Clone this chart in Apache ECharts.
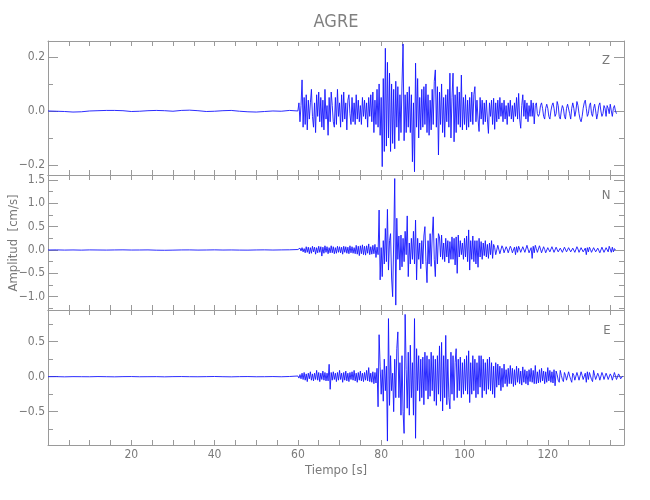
<!DOCTYPE html>
<html>
<head>
<meta charset="utf-8">
<script src="https://cdn.jsdelivr.net/npm/echarts@6/dist/echarts.min.js"></script>
<style>html,body{margin:0;padding:0;background:#fff}#c{width:650px;height:500px}</style>
</head>
<body>
<div id="c"></div>
<script>
// ---- data ----
const stationName = 'AGRE';
const componentNames = ['Z', 'N', 'E'];
const xTitle = 'Tiempo [s]';
const yTitle = 'Amplitud  [cm/s]';

const PRE_T0 = 0, PRE_DT = 2;      // quiet part, one reading every 2 s
const ACT_T0 = 60, ACT_DT = 0.25;  // active part, one reading every 0.25 s

const xTicks = [5,10,15,20,25,30,35,40,45,50,55,60,65,70,75,80,85,90,95,100,105,110,115,120,125,130,135];
const xLabels = [20,40,60,80,100,120];

const zMajor = [-0.2, 0, 0.2], zMinor = [-0.1, 0.1];
const nMajor = [-1, -0.5, 0, 0.5, 1, 1.5], nMinor = [-1.25, -0.75, -0.25, 0.25, 0.75, 1.25];
const eMajor = [-0.5, 0, 0.5], eMinor = [-0.75, -0.25, 0.25, 0.75];

const zRange = [-0.237, 0.259];
const nRange = [-1.285, 1.606];
const eRange = [-0.976, 0.953];

const zPre = [0.000,-0.001,-0.002,-0.004,-0.003,0.000,0.001,0.002,0.002,0.001,-0.002,-0.001,0.001,0.002,0.001,
  -0.001,0.002,0.003,0.001,-0.002,-0.001,0.001,0.002,-0.001,-0.003,-0.004,-0.002,0.000,-0.001,0.002];
const zAct = [
  0.00,0.03,-0.04,0.02,      // 60
  0.115,-0.06,0.05,-0.05,
  0.06,-0.07,0.04,-0.03,
  0.03,0.08,-0.02,-0.06,
  0.03,-0.08,0.06,-0.02,
  0.07,-0.04,0.05,-0.06,     // 65
  0.04,-0.07,0.08,-0.03,
  0.02,-0.09,0.05,-0.04,
  0.07,0.02,-0.04,-0.06,
  0.05,-0.05,0.08,-0.02,
  0.03,-0.06,0.06,-0.04,     // 70
  0.07,-0.03,0.03,-0.07,
  0.04,0.06,-0.01,-0.05,
  0.05,-0.04,0.03,-0.05,
  0.06,-0.03,0.04,-0.04,
  0.02,-0.05,0.05,-0.02,     // 75
  0.04,-0.03,0.03,-0.06,
  0.05,-0.02,0.06,-0.04,
  0.07,-0.08,0.04,-0.05,
  0.08,-0.06,0.10,-0.09,
  0.05,-0.206,0.12,-0.15,    // 80
  0.232,-0.13,0.18,-0.10,
  0.14,-0.15,0.10,-0.12,
  0.08,-0.14,0.11,-0.06,
  0.09,-0.11,0.06,-0.08,
  0.10,0.248,-0.11,0.06,     // 85
  -0.08,0.07,-0.06,0.09,
  -0.08,0.06,-0.188,0.03,
  -0.225,0.177,-0.06,0.12,
  -0.10,0.05,-0.07,0.08,
  -0.06,0.09,-0.05,0.10,     // 90
  -0.08,0.06,-0.09,0.04,
  -0.07,0.08,-0.05,0.11,
  0.152,-0.06,0.09,-0.163,
  0.07,-0.05,0.10,-0.08,
  0.05,-0.097,0.06,-0.04,    // 95
  0.08,-0.06,0.14,-0.10,
  0.05,0.14,-0.114,0.06,
  -0.08,0.09,-0.05,0.07,
  -0.06,0.133,-0.07,0.05,
  -0.05,0.06,-0.07,0.04,     // 100
  -0.06,0.05,-0.04,0.07,
  -0.05,0.06,0.09,-0.04,
  0.04,-0.03,-0.076,0.05,
  -0.03,0.04,-0.05,0.03,
  -0.04,0.04,-0.03,-0.083,   // 105
  0.03,-0.02,0.04,-0.05,
  0.047,-0.068,0.03,-0.04,
  0.04,-0.03,0.05,-0.02,
  0.03,-0.04,0.04,-0.03,
  0.02,-0.05,0.03,-0.02,     // 110
  0.04,-0.03,0.02,-0.04,
  0.03,-0.02,0.05,-0.03,
  0.065,-0.03,-0.064,0.02,
  0.06,-0.02,0.04,-0.03,
  0.03,-0.04,0.02,-0.02,     // 115
  0.04,-0.02,0.03,-0.048,
  0.02,0.03,-0.01,-0.02,
  -0.01,0.02,0.03,0.01,
  -0.02,-0.03,0.01,0.025,
  0.01,-0.02,-0.03,0.00,     // 120
  0.02,0.03,0.01,-0.02,
  -0.01,0.035,0.02,-0.02,
  -0.03,0.00,0.02,0.01,
  -0.02,-0.03,0.01,0.025,
  0.02,-0.01,-0.03,0.01,     // 125
  0.03,0.01,-0.02,0.00,
  0.035,0.02,-0.01,-0.03,
  -0.04,-0.02,0.01,0.03,
  0.04,0.01,-0.02,-0.01,
  0.02,0.03,-0.01,-0.02,     // 130
  0.01,0.025,0.00,-0.03,
  -0.01,0.02,0.03,0.00,
  -0.02,-0.01,0.02,0.01,
  -0.02,0.02,0.01,-0.01,
  0.025,0.00,-0.02,0.01,     // 135
  0.02,0.00,-0.01
];

const nPre = [0.000,0.002,-0.002,0.001,-0.003,0.002,0.000,-0.002,0.001,0.003,-0.001,0.000,0.002,-0.004,-0.006,
  -0.003,0.001,0.002,-0.002,0.000,0.003,-0.001,0.001,-0.002,-0.003,0.001,0.003,-0.001,0.002,0.004];
const nAct = [
  0.01,-0.03,0.04,-0.02,     // 60
  0.05,-0.04,0.03,-0.06,
  0.07,-0.05,0.06,-0.08,
  0.05,-0.07,0.08,-0.04,
  0.06,-0.09,0.05,-0.06,
  0.08,-0.05,0.07,-0.13,     // 65
  0.06,-0.07,0.09,-0.05,
  0.07,-0.08,0.05,-0.06,
  0.09,-0.06,0.07,-0.08,
  0.05,-0.07,0.08,-0.05,
  0.07,-0.06,0.06,-0.09,     // 70
  0.08,-0.05,0.07,-0.07,
  0.06,-0.08,0.09,-0.06,
  0.07,-0.07,0.05,-0.08,
  0.10,-0.09,0.08,-0.12,
  0.09,-0.08,0.11,-0.10,     // 75
  0.08,-0.11,0.09,-0.07,
  0.13,-0.10,0.07,-0.09,
  0.10,-0.08,0.12,-0.16,
  0.06,-0.10,0.855,-0.64,
  0.05,-0.57,0.20,-0.30,     // 80
  0.46,-0.25,0.87,-0.43,
  0.20,0.35,-0.60,-1.00,
  0.15,1.53,-1.18,0.68,
  -0.20,0.30,-0.43,0.32,
  -0.36,0.25,-0.25,0.40,     // 85
  -0.10,0.73,-0.57,0.15,
  -0.30,0.25,-0.20,0.40,
  -0.30,0.64,-0.64,0.25,
  -0.20,0.15,-0.40,0.20,
  -0.30,0.30,0.50,-0.25,     // 90
  -0.70,0.20,-0.30,0.35,
  -0.35,0.30,0.71,-0.20,
  -0.57,0.25,-0.30,0.35,
  0.28,-0.15,0.32,-0.20,
  0.15,-0.25,0.25,-0.15,     // 95
  0.20,-0.28,0.18,-0.20,
  0.28,-0.20,0.25,-0.32,
  0.28,-0.50,0.32,-0.15,
  0.20,-0.10,0.15,-0.20,
  0.25,-0.15,0.30,-0.25,     // 100
  0.43,-0.43,0.20,-0.20,
  0.30,-0.25,0.20,-0.30,
  0.20,-0.37,0.25,-0.15,
  0.18,-0.20,0.15,-0.12,
  0.20,-0.15,0.12,-0.18,     // 105
  0.15,-0.10,0.20,-0.18,
  0.12,0.05,-0.10,-0.08,
  0.10,0.06,-0.08,-0.07,
  0.09,0.04,-0.06,-0.10,
  0.07,0.02,-0.06,-0.04,     // 110
  0.08,0.03,-0.06,-0.08,
  0.06,-0.10,0.07,-0.05,
  0.08,0.02,-0.05,-0.09,
  0.07,0.04,-0.05,-0.06,
  0.10,0.02,-0.06,-0.10,     // 115
  0.05,-0.18,0.08,-0.06,
  0.10,0.03,-0.05,-0.08,
  0.09,0.02,-0.06,-0.05,
  0.07,0.01,-0.06,-0.07,
  0.05,0.02,-0.04,-0.04,     // 120
  0.07,0.01,-0.05,-0.06,
  0.06,0.02,-0.04,-0.05,
  0.04,0.01,-0.05,-0.04,
  0.06,0.02,-0.04,-0.07,
  0.05,0.01,-0.04,-0.05,     // 125
  0.04,0.02,-0.05,-0.04,
  0.07,0.02,-0.05,-0.06,
  0.05,0.01,-0.04,-0.05,
  0.04,-0.10,0.05,-0.04,
  0.06,0.01,-0.05,-0.06,     // 130
  0.05,0.02,-0.04,-0.05,
  0.04,0.01,-0.06,-0.04,
  0.06,0.02,-0.05,-0.07,
  0.05,0.01,-0.04,0.08,
  0.10,-0.05,0.06,-0.04,     // 135
  0.03,0.00
];

const ePre = [0.000,0.001,-0.002,0.001,0.000,-0.001,0.002,0.000,-0.002,0.001,0.002,-0.001,0.000,0.001,-0.002,
  0.001,0.002,0.000,-0.001,0.001,0.003,0.000,-0.002,0.001,0.002,-0.001,0.000,0.002,-0.001,0.003];
const eAct = [
  0.01,-0.02,0.03,-0.03,     // 60
  0.05,-0.04,0.06,-0.05,
  0.04,-0.07,0.05,-0.03,
  0.07,-0.05,0.04,-0.06,
  0.05,-0.04,0.09,-0.05,
  0.06,-0.07,0.05,-0.04,     // 65
  0.08,-0.05,0.06,-0.06,
  0.05,-0.06,0.177,-0.18,
  0.06,-0.05,0.07,-0.04,
  0.05,-0.07,0.06,-0.05,
  0.09,-0.04,0.05,-0.08,     // 70
  0.06,-0.05,0.08,-0.06,
  0.05,-0.07,0.06,-0.04,
  0.07,-0.05,0.09,-0.06,
  0.05,-0.08,0.06,-0.05,
  0.08,-0.06,0.05,-0.07,     // 75
  0.06,-0.05,0.09,-0.06,
  0.13,-0.07,0.05,-0.08,
  0.07,-0.10,0.06,-0.09,
  0.12,-0.43,0.60,0.15,
  -0.25,0.10,-0.35,0.25,     // 80
  -0.20,0.15,-0.92,0.83,
  -0.41,0.30,-0.20,0.05,
  -0.50,0.25,-0.30,0.40,
  0.64,-0.30,0.20,-0.55,
  0.30,-0.50,-0.81,0.89,     // 85
  0.10,-0.45,0.35,-0.55,
  0.45,-0.30,0.20,-0.55,
  0.83,-0.88,0.40,-0.20,
  0.30,-0.35,0.25,-0.30,
  0.28,-0.40,0.35,-0.20,     // 90
  0.30,-0.32,0.25,-0.28,
  0.35,-0.20,0.30,-0.35,
  0.25,-0.41,0.30,-0.25,
  0.44,-0.35,0.49,-0.49,
  0.30,-0.30,0.59,-0.40,     // 95
  0.25,-0.30,-0.46,0.35,
  -0.25,0.30,-0.34,0.20,
  0.40,-0.30,0.25,-0.20,
  0.28,-0.30,0.20,-0.25,
  0.25,-0.20,0.30,-0.25,     // 100
  0.37,-0.37,0.20,-0.25,
  0.30,-0.20,0.25,-0.30,
  0.20,-0.25,0.30,-0.15,
  0.30,-0.30,0.25,-0.20,
  0.20,-0.25,0.25,-0.18,     // 105
  0.28,-0.20,0.20,-0.25,
  0.15,-0.30,0.20,-0.15,
  0.18,-0.12,0.15,-0.20,
  0.12,-0.15,0.18,-0.10,
  0.10,-0.14,0.12,-0.10,     // 110
  0.16,-0.10,0.12,-0.14,
  0.10,-0.12,0.15,-0.08,
  0.12,-0.10,0.08,-0.12,
  0.14,-0.08,0.10,-0.10,
  0.08,-0.12,0.10,-0.07,     // 115
  0.12,-0.08,0.09,-0.10,
  0.16,-0.10,0.07,-0.09,
  0.10,-0.08,0.12,-0.06,
  0.08,-0.10,0.07,-0.08,
  0.13,-0.06,0.09,-0.08,     // 120
  0.07,-0.09,0.10,-0.13,
  0.08,0.03,-0.05,-0.08,
  0.09,0.02,-0.04,-0.07,
  0.06,0.02,-0.05,-0.05,
  0.07,0.01,-0.04,-0.08,     // 125
  0.05,0.02,-0.05,-0.06,
  0.06,0.01,-0.05,-0.04,
  0.07,0.02,-0.04,-0.06,
  0.05,-0.08,0.07,-0.04,
  0.06,0.01,-0.04,-0.07,     // 130
  0.09,0.02,-0.04,-0.05,
  0.05,0.01,-0.05,-0.04,
  0.06,0.02,-0.04,-0.06,
  0.05,0.01,-0.04,-0.05,
  0.04,0.01,-0.05,-0.03,     // 135
  0.06,0.01,-0.04,-0.05,
  0.04,0.01,-0.03,-0.02,
  0.01
];

// ---- chart ----
function toPairs(pre, act) {
  const out = [];
  pre.forEach((v, i) => out.push([PRE_T0 + i * PRE_DT, v]));
  act.forEach((v, i) => out.push([ACT_T0 + i * ACT_DT, v]));
  return out;
}

const AX = '#9a9a9a', TX = '#7a7a7a';
const FONT = "'Liberation Sans Narrow','DejaVu Sans Condensed',sans-serif";
const grids = [
  {left: 48, right: 26, top: 41, height: 134},
  {left: 48, right: 26, top: 175, height: 135},
  {left: 48, right: 26, top: 310, height: 135}
];
const panels = [
  {range: zRange, major: zMajor, minor: zMinor, data: toPairs(zPre, zAct)},
  {range: nRange, major: nMajor, minor: nMinor, data: toPairs(nPre, nAct)},
  {range: eRange, major: eMajor, minor: eMinor, data: toPairs(ePre, eAct)}
];
function fmtY(v) {
  if (Math.abs(v) < 1e-9) return '0.0';
  return (v < 0 ? '\u2212' : '') + Math.abs(v).toFixed(1);
}
const xAxis = [], yAxis = [], series = [];
panels.forEach((p, i) => {
  ['bottom', 'top'].forEach(pos => {
    xAxis.push({
      gridIndex: i, type: 'value', min: 0, max: 138.3, position: pos,
      axisLine: {show: true, onZero: false, lineStyle: {color: AX, width: 1}},
      splitLine: {show: false},
      axisTick: {show: true, inside: true, length: 5, customValues: xTicks, lineStyle: {color: AX}},
      axisLabel: {show: pos === 'bottom' && i === 2, customValues: xLabels, margin: 4,
        color: TX, fontSize: 12, fontFamily: FONT}
    });
  });
  [['left', true], ['right', true], ['left', false], ['right', false]].forEach(([pos, isMajor]) => {
    yAxis.push({
      gridIndex: i, type: 'value', min: p.range[0], max: p.range[1], position: pos,
      axisLine: {show: isMajor, onZero: false, lineStyle: {color: AX, width: 1}},
      splitLine: {show: false},
      axisTick: {show: true, inside: true, length: isMajor ? 10 : 5,
        customValues: isMajor ? p.major : p.minor, lineStyle: {color: AX}},
      axisLabel: {show: isMajor && pos === 'left', customValues: p.major, formatter: fmtY,
        margin: 3, color: TX, fontSize: 12, fontFamily: FONT}
    });
  });
  series.push({
    type: 'line', xAxisIndex: 2 * i, yAxisIndex: 4 * i, data: p.data,
    showSymbol: false, symbol: 'none', clip: false, animation: false,
    lineStyle: {color: '#1414ff', width: 0.9}
  });
});

const chart = echarts.init(document.getElementById('c'), null, {renderer: 'canvas'});
chart.setOption({
  animation: false,
  backgroundColor: '#ffffff',
  grid: grids,
  xAxis: xAxis,
  yAxis: yAxis,
  series: series,
  graphic: [
    {type: 'text', x: 336, y: 22, style: {text: stationName, fill: '#808080', font: "18px " + FONT, textAlign: 'center', verticalAlign: 'middle', textVerticalAlign: 'middle'}},
    {type: 'text', x: 606, y: 61, style: {text: componentNames[0], fill: TX, font: "13px " + FONT, textAlign: 'center', verticalAlign: 'middle', textVerticalAlign: 'middle'}},
    {type: 'text', x: 606, y: 196, style: {text: componentNames[1], fill: TX, font: "13px " + FONT, textAlign: 'center', verticalAlign: 'middle', textVerticalAlign: 'middle'}},
    {type: 'text', x: 607, y: 331, style: {text: componentNames[2], fill: TX, font: "13px " + FONT, textAlign: 'center', verticalAlign: 'middle', textVerticalAlign: 'middle'}},
    {type: 'text', x: 336, y: 471, style: {text: xTitle, fill: TX, font: "13px " + FONT, textAlign: 'center', verticalAlign: 'middle', textVerticalAlign: 'middle'}},
    {type: 'text', x: 14, y: 243, rotation: Math.PI / 2, style: {text: yTitle, fill: TX, font: "13px " + FONT, textAlign: 'center', verticalAlign: 'middle', textVerticalAlign: 'middle'}}
  ]
});
</script>
</body>
</html>
